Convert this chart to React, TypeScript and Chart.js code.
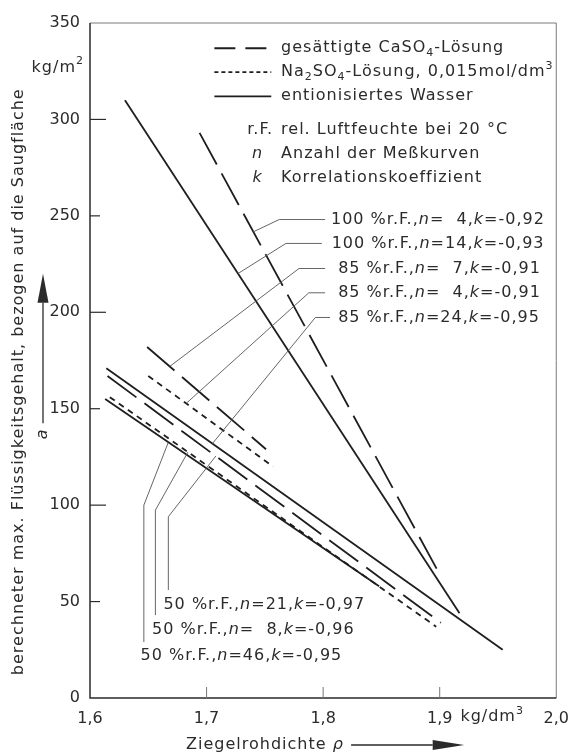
import React, { useEffect, useRef } from 'react';
import { Chart, registerables } from 'chart.js';

Chart.register(...registerables);

const FONT = '"DejaVu Sans", sans-serif';
const INK = '#2b2b2b';
const LINE = '#1e1e1e';
const THIN = '#555555';
const SIZE = 16;
const LS = '1px';

// ---------- data (x: Ziegelrohdichte kg/dm³, y: Flüssigkeitsgehalt kg/m²) ----------
const xTickValues = [1.6, 1.7, 1.8, 1.9, 2.0];
const yTickValues = [0, 50, 100, 150, 200, 250, 300, 350];

const caso4_100 = [{ x: 1.694, y: 293 }, { x: 1.901, y: 63 }];
const water_100 = [{ x: 1.630, y: 310 }, { x: 1.917, y: 44 }];
const caso4_85 = [{ x: 1.649, y: 182 }, { x: 1.751, y: 129 }];
const na2so4_85 = [{ x: 1.650, y: 167 }, { x: 1.757, y: 120 }];
const water_85 = [{ x: 1.614, y: 171 }, { x: 1.954, y: 25 }];
const caso4_50 = [{ x: 1.615, y: 167 }, { x: 1.901, y: 39 }];
const na2so4_50 = [{ x: 1.617, y: 156 }, { x: 1.897, y: 37 }];
const water_50 = [{ x: 1.613, y: 155 }, { x: 1.848, y: 58 }];

const seriesList = [caso4_100, water_100, caso4_85, na2so4_85, water_85, caso4_50, na2so4_50, water_50];
const seriesMedium = ['CaSO4', 'water', 'CaSO4', 'Na2SO4', 'water', 'CaSO4', 'Na2SO4', 'water'];
const curveRH = [100, 100, 85, 85, 85, 50, 50, 50];
const curveN = [4, 14, 7, 4, 24, 21, 8, 46];
const curveK = ['-0,92', '-0,93', '-0,91', '-0,91', '-0,95', '-0,97', '-0,96', '-0,95'];

// annotation leader paths and label anchors (data coordinates)
const leaderPaths = [
  [[1.8017, 248.1], [1.7624, 248.1], [1.740, 241.7]],
  [[1.7989, 235.7], [1.7681, 235.7], [1.727, 220.1]],
  [[1.8017, 222.7], [1.7793, 222.7], [1.6686, 172.0]],
  [[1.8017, 210.1], [1.7877, 210.1], [1.6826, 152.8]],
  [[1.8059, 197.3], [1.7933, 197.3], [1.705, 131.9]],
  [[1.708, 125.5], [1.6672, 94.0], [1.6672, 56.0]],
  [[1.684, 127.5], [1.6561, 97.4], [1.6561, 43.0]],
  [[1.667, 132.3], [1.6462, 100.0], [1.6462, 29.0]],
];
const labelAnchors = [
  [1.8067, 248.1], [1.8073, 235.7], [1.8129, 222.7], [1.8129, 210.1], [1.8129, 197.3],
  [1.663, 48.2], [1.6532, 35.2], [1.6434, 21.8],
];

const MEDIUM_DASH: Record<string, number[]> = { CaSO4: [36, 10], Na2SO4: [6, 5], water: [] };

// ---------- text helpers ----------
type Seg = { t: string; it?: boolean; sub?: boolean; sup?: boolean };

function fontOf(s: Seg) {
  const sz = s.sub || s.sup ? Math.round(SIZE * 0.68) : SIZE;
  return `${s.it ? 'italic ' : ''}${sz}px ${FONT}`;
}

function richWidth(ctx: CanvasRenderingContext2D, segs: Seg[]) {
  let w = 0;
  for (const s of segs) {
    ctx.font = fontOf(s);
    w += ctx.measureText(s.t).width;
  }
  return w;
}

function drawRich(ctx: CanvasRenderingContext2D, segs: Seg[], x: number, y: number, align: 'left' | 'right' | 'center' = 'left') {
  ctx.save();
  ctx.fillStyle = INK;
  ctx.textBaseline = 'middle';
  ctx.textAlign = 'left';
  (ctx as any).letterSpacing = LS;
  const w = richWidth(ctx, segs);
  let cx = align === 'left' ? x : align === 'right' ? x - w : x - w / 2;
  for (const s of segs) {
    ctx.font = fontOf(s);
    const dy = s.sub ? 5 : s.sup ? -6 : 0;
    ctx.fillText(s.t, cx, y + dy);
    cx += ctx.measureText(s.t).width;
  }
  ctx.restore();
}

function curveLabel(i: number): Seg[] {
  const n = curveN[i];
  return [
    { t: `${curveRH[i]} %r.F.,` },
    { t: 'n', it: true },
    { t: `=${n < 10 ? '  ' : ''}${n},` },
    { t: 'k', it: true },
    { t: `=${curveK[i]}` },
  ];
}

const decorPlugin = {
  id: 'decor',
  afterDraw(chart: any) {
    const { ctx, chartArea: ca, scales } = chart;
    const xs = scales.x;
    const ys = scales.y;
    const X = (v: number) => xs.getPixelForValue(v);
    const Y = (v: number) => ys.getPixelForValue(v);

    ctx.save();
    // frame
    ctx.strokeStyle = '#7a7a7a';
    ctx.lineWidth = 1;
    ctx.beginPath();
    ctx.moveTo(ca.left, ca.top);
    ctx.lineTo(ca.right, ca.top);
    ctx.lineTo(ca.right, ca.bottom);
    ctx.stroke();
    ctx.strokeStyle = INK;
    ctx.lineWidth = 1.5;
    ctx.beginPath();
    ctx.moveTo(ca.left, ca.top);
    ctx.lineTo(ca.left, ca.bottom);
    ctx.lineTo(ca.right, ca.bottom);
    ctx.stroke();

    // inward ticks
    ctx.lineWidth = 1.2;
    for (const v of yTickValues) {
      if (v === 0 || v === 350) continue;
      const len = v % 100 === 0 ? 16 : 10;
      ctx.beginPath();
      ctx.moveTo(ca.left, Y(v));
      ctx.lineTo(ca.left + len, Y(v));
      ctx.stroke();
    }
    ctx.strokeStyle = '#777';
    ctx.lineWidth = 1;
    for (const v of xTickValues) {
      if (v === 1.6 || v === 2.0) continue;
      ctx.beginPath();
      ctx.moveTo(X(v), ca.bottom);
      ctx.lineTo(X(v), ca.bottom - 11);
      ctx.stroke();
    }

    // leaders
    ctx.strokeStyle = THIN;
    ctx.lineWidth = 0.9;
    for (const path of leaderPaths) {
      ctx.beginPath();
      path.forEach((p, j) => (j === 0 ? ctx.moveTo(X(p[0]), Y(p[1])) : ctx.lineTo(X(p[0]), Y(p[1]))));
      ctx.stroke();
    }
    ctx.restore();

    // curve labels
    labelAnchors.forEach((a, i) => drawRich(ctx, curveLabel(i), X(a[0]), Y(a[1]), 'left'));

    // legend
    const lx1 = X(1.7067);
    const lx2 = X(1.7555);
    const tx = X(1.7639);
    const legendY = [336.9, 324.5, 312.0];
    const legendDash = [[21, 10], [4, 3], []];
    ctx.save();
    ctx.strokeStyle = LINE;
    ctx.lineWidth = 1.8;
    legendY.forEach((ly, i) => {
      ctx.setLineDash(legendDash[i]);
      ctx.beginPath();
      ctx.moveTo(lx1, Y(ly));
      ctx.lineTo(lx2, Y(ly));
      ctx.stroke();
    });
    ctx.restore();
    drawRich(ctx, [{ t: 'gesättigte CaSO' }, { t: '4', sub: true }, { t: '-Lösung' }], tx, Y(legendY[0]));
    drawRich(ctx, [{ t: 'Na' }, { t: '2', sub: true }, { t: 'SO' }, { t: '4', sub: true }, { t: '-Lösung, 0,015mol/dm' }, { t: '3', sup: true }], tx, Y(legendY[1]));
    drawRich(ctx, [{ t: 'entionisiertes Wasser' }], tx, Y(legendY[2]));
    drawRich(ctx, [{ t: 'r.F.' }], X(1.7571), Y(294.4), 'right');
    drawRich(ctx, [{ t: 'rel. Luftfeuchte bei 20 °C' }], tx, Y(294.4));
    drawRich(ctx, [{ t: 'n', it: true }], X(1.7437), Y(282.0), 'center');
    drawRich(ctx, [{ t: 'Anzahl der Meßkurven' }], tx, Y(282.0));
    drawRich(ctx, [{ t: 'k', it: true }], X(1.7437), Y(269.5), 'center');
    drawRich(ctx, [{ t: 'Korrelationskoeffizient' }], tx, Y(269.5));

    // units
    drawRich(ctx, [{ t: 'kg/m' }, { t: '2', sup: true }], ca.left - 6, Y(327), 'right');
    drawRich(ctx, [{ t: 'kg/dm' }, { t: '3', sup: true }], X(1.945), ca.bottom + 19, 'center');

    // x title with arrow
    const ty = ca.bottom + 47;
    drawRich(ctx, [{ t: 'Ziegelrohdichte ' }, { t: 'ρ', it: true }], X(1.6824), ty, 'left');
    ctx.save();
    ctx.strokeStyle = INK;
    ctx.fillStyle = INK;
    ctx.lineWidth = 1.3;
    ctx.beginPath();
    ctx.moveTo(X(1.824), ty);
    ctx.lineTo(X(1.894), ty);
    ctx.stroke();
    ctx.beginPath();
    ctx.moveTo(X(1.894), ty - 5);
    ctx.lineTo(X(1.921), ty);
    ctx.lineTo(X(1.894), ty + 5);
    ctx.closePath();
    ctx.fill();
    ctx.restore();

    // y title (rotated)
    ctx.save();
    ctx.translate(19, Y(164));
    ctx.rotate(-Math.PI / 2);
    drawRich(ctx, [{ t: 'berechneter max. Flüssigkeitsgehalt, bezogen auf die Saugfläche' }], 0, 0, 'center');
    ctx.restore();

    // y arrow with symbol a
    const ax = 43;
    ctx.save();
    ctx.strokeStyle = INK;
    ctx.fillStyle = INK;
    ctx.lineWidth = 1.3;
    ctx.beginPath();
    ctx.moveTo(ax, Y(142.5));
    ctx.lineTo(ax, Y(205));
    ctx.stroke();
    ctx.beginPath();
    ctx.moveTo(ax - 5.5, Y(205));
    ctx.lineTo(ax, Y(220));
    ctx.lineTo(ax + 5.5, Y(205));
    ctx.closePath();
    ctx.fill();
    ctx.translate(ax, Y(137));
    ctx.rotate(-Math.PI / 2);
    drawRich(ctx, [{ t: 'a', it: true }], 0, 0, 'center');
    ctx.restore();
  },
};

export default function App() {
  const ref = useRef<HTMLCanvasElement>(null);

  useEffect(() => {
    const canvas = ref.current;
    if (!canvas) return;
    const datasets = seriesList.map((d, i) => ({
      data: d,
      showLine: true,
      borderColor: LINE,
      backgroundColor: LINE,
      borderWidth: 1.8,
      borderDash: MEDIUM_DASH[seriesMedium[i]],
      pointRadius: 0,
      pointHoverRadius: 0,
      fill: false,
      tension: 0,
    }));
    const chart = new Chart(canvas, {
      type: 'scatter',
      data: { datasets },
      options: {
        animation: false,
        responsive: false,
        maintainAspectRatio: false,
        devicePixelRatio: 1,
        layout: { padding: { top: 23, right: 14, left: 0, bottom: 0 } },
        plugins: { legend: { display: false }, tooltip: { enabled: false } },
        scales: {
          x: {
            type: 'linear',
            min: 1.6,
            max: 2.0,
            grid: { display: false, drawTicks: false },
            border: { display: false },
            afterBuildTicks: (s: any) => {
              s.ticks = xTickValues.map((v) => ({ value: v }));
            },
            afterFit: (s: any) => {
              s.height = 55;
            },
            ticks: {
              padding: 11,
              color: INK,
              font: { family: FONT, size: SIZE },
              maxRotation: 0,
              autoSkip: false,
              callback: (v: any) => Number(v).toFixed(1).replace('.', ','),
            },
          },
          y: {
            type: 'linear',
            min: 0,
            max: 350,
            grid: { display: false, drawTicks: false },
            border: { display: false },
            afterBuildTicks: (s: any) => {
              s.ticks = yTickValues.map((v) => ({ value: v }));
            },
            afterFit: (s: any) => {
              s.width = 90;
            },
            ticks: {
              padding: 10,
              color: INK,
              font: { family: FONT, size: SIZE },
              autoSkip: false,
              callback: (v: any) => String(v),
            },
          },
        },
      } as any,
      plugins: [decorPlugin],
    });
    return () => chart.destroy();
  }, []);

  return (
    <div style={{ position: 'absolute', left: 0, top: 0, width: 580, height: 753, background: '#fff' }}>
      <canvas ref={ref} width={580} height={753} style={{ display: 'block' }} />
    </div>
  );
}
